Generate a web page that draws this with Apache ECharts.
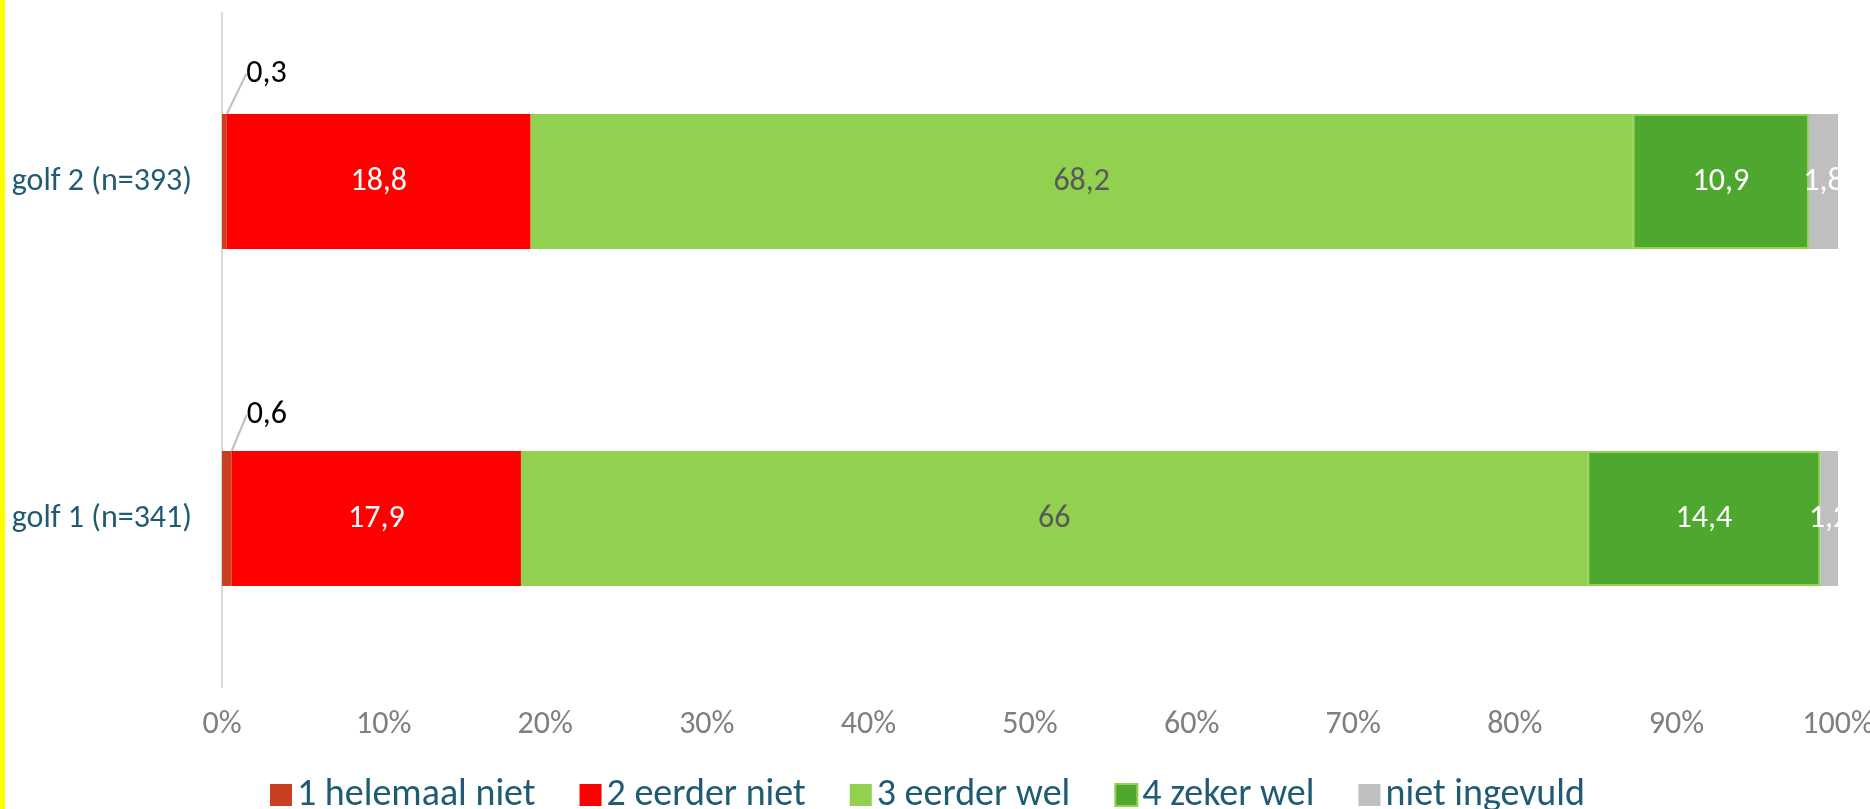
<!DOCTYPE html>
<html>
<head>
<meta charset="utf-8">
<title>golf 1 / golf 2</title>
<script src="https://cdn.jsdelivr.net/npm/echarts@6/dist/echarts.min.js"></script>
<style>
html, body { margin: 0; padding: 0; background: #fff; }
#chart { width: 1870px; height: 809px; }
</style>
</head>
<body>
<div id="chart"></div>
<script>
var chart = echarts.init(document.getElementById('chart'));

var categories = [ 'golf 1 (n=341)', 'golf 2 (n=393)' ];
var seriesNames = [ '1 helemaal niet', '2 eerder niet', '3 eerder wel', '4 zeker wel', 'niet ingevuld' ];
var helemaalNiet = [ 0.6, 0.3 ];
var eerderNiet = [ 17.9, 18.8 ];
var eerderWel = [ 66, 68.2 ];
var zekerWel = [ 14.4, 10.9 ];
var nietIngevuld = [ 1.2, 1.8 ];
var xTicks = [ 0, 10, 20, 30, 40, 50, 60, 70, 80, 90, 100 ];

var colors = [ '#C8401F', '#FF0000', '#92D050', '#4EA72E', '#BFBFBF' ];
var labelColors = [ '#000000', '#FFFFFF', '#595959', '#FFFFFF', '#FFFFFF' ];
var font = 'Carlito, Lato, "Open Sans", sans-serif';

function fmt(p) {
	return String(p.value).replace('.', ',');
}

function makeSeries(i, data) {
	var s = {
		name : seriesNames[i],
		type : 'bar',
		stack : 'total',
		barWidth : 135,
		data : data,
		itemStyle : {
			color : colors[i]
		},
		label : {
			show : true,
			position : 'inside',
			formatter : fmt,
			color : labelColors[i],
			fontSize : 32,
			fontFamily : font
		}
	};
	if (i == 3) {
		s.itemStyle.borderColor = '#92D050';
		s.itemStyle.borderWidth = 2;
	}
	if (i == 0) {
		// small values sit outside the bar with a leader line
		s.label.position = 'top';
		s.label.distance = 20;
		s.labelLine = {
			show : true,
			lineStyle : {
				color : '#BFBFBF',
				width : 2
			}
		};
		s.labelLayout = function(params) {
			return {
				dx : params.dataIndex == 0 ? 40 : 42,
				dy : params.dataIndex == 0 ? 0 : -4
			};
		};
	}
	return s;
}

var option = {
	animation : false,
	graphic : [ {
		type : 'rect',
		left : 0,
		top : 0,
		shape : {
			width : 5,
			height : 809
		},
		style : {
			fill : '#FFFF00'
		}
	} ],
	grid : {
		left : 222,
		right : 32,
		top : 13,
		bottom : 122,
		outerBoundsMode : 'none'
	},
	legend : {
		data : seriesNames,
		top : 771,
		left : 265,
		icon : 'rect',
		itemWidth : 22,
		itemHeight : 22,
		itemGap : 44,
		textStyle : {
			color : '#1F5C73',
			fontSize : 38,
			fontFamily : font
		}
	},
	xAxis : {
		type : 'value',
		min : xTicks[0],
		max : xTicks[xTicks.length - 1],
		interval : xTicks[1] - xTicks[0],
		axisLine : {
			show : false
		},
		axisTick : {
			show : false
		},
		splitLine : {
			show : false
		},
		axisLabel : {
			formatter : '{value}%',
			color : '#7F7F7F',
			fontSize : 32,
			fontFamily : font,
			margin : 22
		}
	},
	yAxis : {
		type : 'category',
		data : categories,
		axisLine : {
			lineStyle : {
				color : '#D9D9D9',
				width : 2
			}
		},
		axisTick : {
			show : false
		},
		axisLabel : {
			color : '#1F5C73',
			fontSize : 32,
			fontFamily : font,
			margin : 30
		}
	},
	series : [
		makeSeries(0, helemaalNiet),
		makeSeries(1, eerderNiet),
		makeSeries(2, eerderWel),
		makeSeries(3, zekerWel),
		makeSeries(4, nietIngevuld)
	]
};

chart.setOption(option, true);
</script>
</body>
</html>
